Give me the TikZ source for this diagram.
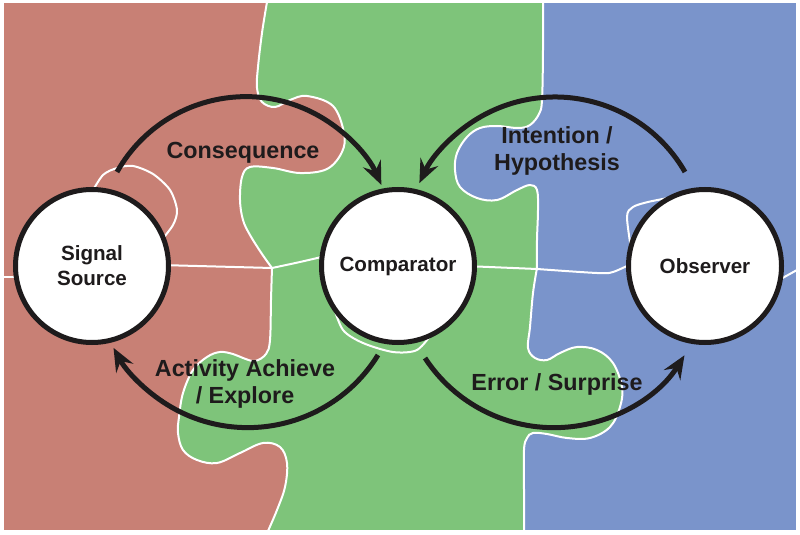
\documentclass[tikz,border=0pt]{standalone}
\usepackage{fontspec}
\setmainfont{Liberation Sans}
\usetikzlibrary{arrows.meta}
\definecolor{pred}{RGB}{200,128,117}
\definecolor{pgreen}{RGB}{126,196,122}
\definecolor{pblue}{RGB}{122,148,203}
\definecolor{ink}{RGB}{30,27,28}
\begin{document}
\begin{tikzpicture}[x=0.03cm,y=-0.03cm,
  seam/.style={draw=white,line width=0.06cm},
  hub/.style={circle,draw=ink,fill=white,line width=0.15cm,minimum size=4.59cm,inner sep=0pt,align=center,font=\fontsize{17.6}{21.3}\selectfont\bfseries,text=ink},
  lbl/.style={align=center,font=\fontsize{19.9}{23.5}\selectfont\bfseries,text=ink},
  conn/.style={draw=ink,line width=0.15cm,-{Stealth[length=0.7cm,width=0.58cm,inset=0.25cm]}}]
\useasboundingbox (0,0) rectangle (800,535);
% pieces
\fill[white] (0,0) rectangle (800,535);
\path[fill=pred,seam] (3,2) rectangle (797,531);
\path[fill=pgreen,seam] (267,2)
  -- plot[smooth,tension=0.6] coordinates {(267,2) (262,33) (258,67) (257,88) (262,102) (275,107) (290,100) (307,96) (333,106) (344,133) (342,152) (327,169) (300,173) (273,168) (250,167) (242,177) (240,200) (243,220) (250,235) (262,254) (272,268)}
  -- plot[smooth,tension=0.6] coordinates {(272,268) (271,300) (270,340) (266,354) (255,361) (243,358) (233,354) (220,352) (207,357) (193,370) (183,393) (179,417) (178,433) (183,450) (197,460) (217,463) (240,453) (263,443) (280,447) (287,463) (285,487) (277,510) (268,531)}
  -- (797,531) -- (797,2) -- cycle;
\path[fill=pblue,seam] (543,2)
  -- plot[smooth,tension=0.6] coordinates {(543,2) (543,50) (542,100) (539,114) (530,125) (518,128) (497,126) (480,128) (467,137) (457,153) (455,170) (460,187) (477,198) (497,200) (517,190) (530,185) (537,190) (538,210) (537,240) (537,268)}
  -- plot[smooth,tension=0.6] coordinates {(537,268) (533,293) (530,327) (528,348) (535,358) (547,360) (560,353) (577,347) (597,350) (613,363) (622,387) (620,407) (610,427) (590,438) (567,438) (547,434) (533,433) (527,438) (524,450) (524,490) (524,531)}
  -- (797,531) -- (797,2) -- cycle;
% seams
\draw[seam] (3,277) -- (25,277);
\draw[seam] (160,265) -- (272,268);
\draw[seam] plot[smooth] coordinates {(272,268) (300,262) (330,255)};
\draw[seam] (465,266) -- (537,269);
\draw[seam] plot[smooth] coordinates {(537,269) (597,273) (613,272) (635,262)};
\draw[seam] (770,285) -- (797,270);
\draw[seam] plot[smooth] coordinates {(92,192) (103,175) (117,168) (133,166) (153,174) (170,190) (177,210) (173,225) (160,242)};
\draw[seam] plot[smooth] coordinates {(333,305) (343,330) (363,343) (393,352) (417,350) (433,332)};
\draw[seam] plot[smooth] coordinates {(632,255) (627,217) (633,207) (648,202) (668,198)};
% hubs
\node[hub] (sig) at (92,266) {Signal\\Source};
\node[hub] (comp) at (398,266) {Comparator};
\node[hub] (obs) at (705,266) {Observer};
% connectors
\draw[conn] (sig.center) ++(25,-94) arc[start angle=150.6,end angle=23.8,radius=4.44cm];
\draw[conn] (obs.center) ++(-20,-94) arc[start angle=30,end angle=154.8,radius=4.5cm];
\draw[conn] (comp.center) ++(27,92) arc[start angle=213.2,end angle=328,radius=4.62cm];
\draw[conn] (comp.center) ++(-20,89) arc[start angle=328.3,end angle=208.6,radius=4.59cm];
% labels
\node[lbl] (lcons) at (243,153) {Consequence};
\node[lbl] (lint) at (557,151) {Intention /\\Hypothesis};
\node[lbl] (lact) at (245,384) {Activity Achieve\\/ Explore};
\node[lbl] (lerr) at (557,384) {Error / Surprise};
\end{tikzpicture}
\end{document}
